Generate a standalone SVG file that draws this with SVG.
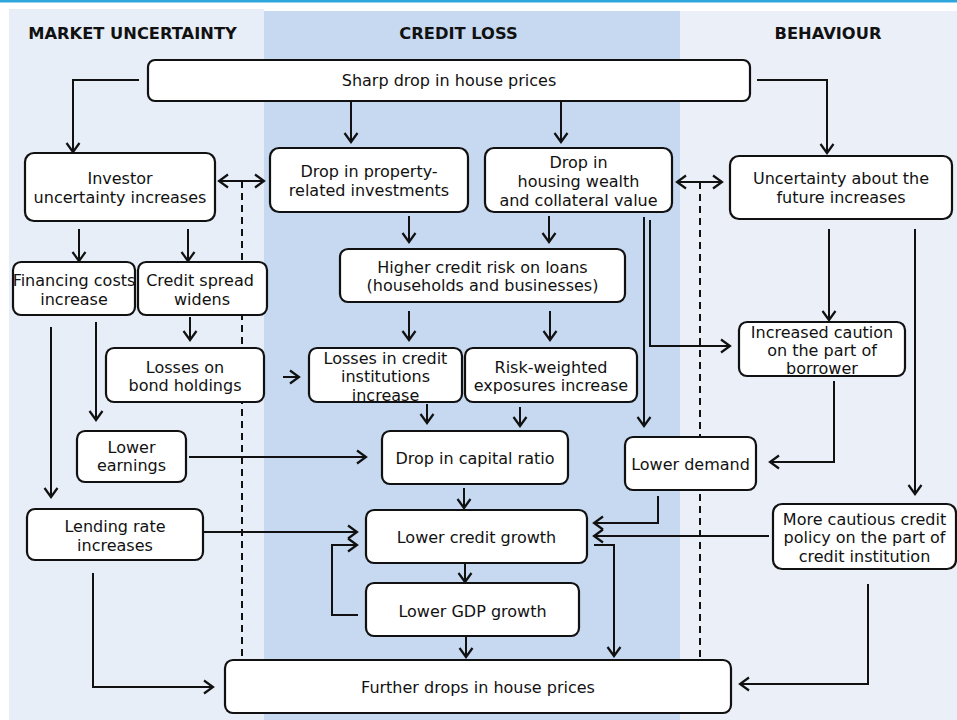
<svg xmlns="http://www.w3.org/2000/svg" width="957" height="720" viewBox="0 0 957 720">
<style>
.box{fill:#fff;stroke:#111;stroke-width:2.2}
.t{font-family:"DejaVu Sans","Verdana",sans-serif;font-size:16px;fill:#111;text-anchor:middle}
.h{font-family:"DejaVu Sans","Verdana",sans-serif;font-size:16.3px;font-weight:bold;fill:#111;text-anchor:middle}
.c{fill:none;stroke:#111;stroke-width:2}
.a{marker-end:url(#ah)}
.d{stroke-dasharray:7,5}
</style>
<defs>
<marker id="ah" markerUnits="userSpaceOnUse" viewBox="0 0 14 16" markerWidth="14" markerHeight="16" refX="12" refY="8" orient="auto-start-reverse">
<path d="M3,1.5 L12,8 L3,14.5" fill="none" stroke="#111" stroke-width="2.2"/>
</marker>
</defs>
<rect x="0" y="0" width="957" height="720" fill="#fff"/>
<rect x="0" y="0" width="957" height="2.5" fill="#2ea6dc"/>
<rect x="9" y="9" width="255" height="711" fill="#e7eef8"/>
<rect x="264" y="11" width="416" height="709" fill="#c6d9f0"/>
<rect x="680" y="11" width="277" height="709" fill="#eaeff8"/>
<text class="h" x="132.5" y="39">MARKET UNCERTAINTY</text>
<text class="h" x="458.5" y="39">CREDIT LOSS</text>
<text class="h" x="828" y="39">BEHAVIOUR</text>

<g id="connectors">
<path class="c a" d="M139,80 H73 V152"/>
<path class="c a" d="M351,101 V142"/>
<path class="c a" d="M561,101 V142"/>
<path class="c a" d="M757,80 H827 V153"/>
<path class="c a" d="M79,229 V261"/>
<path class="c a" d="M188,229 V261"/>
<path class="c a" d="M219,181 H264" marker-start="url(#ah)"/>
<path class="c d" d="M242,181 V657"/>
<path class="c a" d="M677,182 H722" marker-start="url(#ah)"/>
<path class="c d" d="M700,182 V657"/>
<path class="c a" d="M409,216 V242"/>
<path class="c a" d="M549,216 V242"/>
<path class="c a" d="M409,311 V340"/>
<path class="c a" d="M550,311 V340"/>
<path class="c a" d="M650,220 V346 H730"/>
<path class="c a" d="M644,217 V426"/>
<path class="c a" d="M829,229 V320"/>
<path class="c a" d="M915,229 V494"/>
<path class="c a" d="M51,327 V497"/>
<path class="c a" d="M96,322 V420"/>
<path class="c a" d="M190,317 V340"/>
<path class="c a" d="M283,377 H299"/>
<path class="c a" d="M427,404 V423"/>
<path class="c a" d="M520,407 V426"/>
<path class="c a" d="M189,457 H366"/>
<path class="c a" d="M834,381 V462 H770"/>
<path class="c a" d="M464,488 V508"/>
<path class="c a" d="M658,496 V523 H594"/>
<path class="c a" d="M769,536 H594"/>
<path class="c a" d="M203,532 H357"/>
<path class="c a" d="M465,563 V582"/>
<path class="c a" d="M466,637 V657"/>
<path class="c a" d="M358,615 H332 V545 H357"/>
<path class="c a" d="M594,545 H614 V656"/>
<path class="c a" d="M868,584 V684 H740"/>
<path class="c a" d="M93,573 V687 H213"/>
</g>

<g id="sharp"><rect class="box" x="148" y="60" width="602" height="41" rx="7"/><text class="t" x="449" y="85.5">Sharp drop in house prices</text></g>
<g id="investor"><rect class="box" x="25" y="153" width="190" height="68" rx="9"/><text class="t" x="120" y="184">Investor</text><text class="t" x="120" y="203">uncertainty increases</text></g>
<g id="property"><rect class="box" x="270" y="148" width="198" height="64" rx="9"/><text class="t" x="369" y="177">Drop in property-</text><text class="t" x="369" y="196">related investments</text></g>
<g id="housing"><rect class="box" x="485" y="148" width="187" height="64" rx="9"/><text class="t" x="578.5" y="167.5">Drop in</text><text class="t" x="578.5" y="186.5">housing wealth</text><text class="t" x="578.5" y="205.5">and collateral value</text></g>
<g id="future"><rect class="box" x="730" y="156" width="222" height="63" rx="9"/><text class="t" x="841" y="184">Uncertainty about the</text><text class="t" x="841" y="202.5">future increases</text></g>
<g id="financing"><rect class="box" x="13" y="262" width="122" height="53" rx="8"/><text class="t" x="74" y="286">Financing costs</text><text class="t" x="74" y="304.5">increase</text></g>
<g id="spread"><rect class="box" x="138" y="262" width="129" height="53" rx="8"/><text class="t" x="200" y="286">Credit spread</text><text class="t" x="202" y="304.5">widens</text></g>
<g id="risk"><rect class="box" x="340" y="249" width="285" height="53" rx="8"/><text class="t" x="482.5" y="272.5">Higher credit risk on loans</text><text class="t" x="482.5" y="291">(households and businesses)</text></g>
<g id="bond"><rect class="box" x="106" y="348" width="158" height="54" rx="8"/><text class="t" x="185" y="372.5">Losses on</text><text class="t" x="185" y="390.5">bond holdings</text></g>
<g id="losses"><rect class="box" x="309" y="348" width="153" height="54" rx="8"/><text class="t" x="385.5" y="363.5">Losses in credit</text><text class="t" x="385.5" y="382">institutions</text><text class="t" x="385.5" y="400.5">increase</text></g>
<g id="rwe"><rect class="box" x="465" y="348" width="172" height="54" rx="8"/><text class="t" x="551" y="372.5">Risk-weighted</text><text class="t" x="551" y="390.5">exposures increase</text></g>
<g id="caution"><rect class="box" x="739" y="322" width="166" height="54" rx="8"/><text class="t" x="822" y="337.5">Increased caution</text><text class="t" x="822" y="355.5">on the part of</text><text class="t" x="822" y="374">borrower</text></g>
<g id="earnings"><rect class="box" x="77" y="431" width="109" height="51" rx="8"/><text class="t" x="131.5" y="452.5">Lower</text><text class="t" x="131.5" y="471">earnings</text></g>
<g id="capital"><rect class="box" x="382" y="431" width="186" height="53" rx="8"/><text class="t" x="475" y="463.5">Drop in capital ratio</text></g>
<g id="demand"><rect class="box" x="625" y="437" width="131" height="53" rx="8"/><text class="t" x="690.5" y="469.5">Lower demand</text></g>
<g id="lending"><rect class="box" x="27" y="509" width="176" height="51" rx="8"/><text class="t" x="115" y="531.5">Lending rate</text><text class="t" x="115" y="550.5">increases</text></g>
<g id="creditgrowth"><rect class="box" x="366" y="510" width="221" height="53" rx="8"/><text class="t" x="476.5" y="542.5">Lower credit growth</text></g>
<g id="cautious"><rect class="box" x="773" y="504" width="183" height="65" rx="9"/><text class="t" x="864.5" y="524.5">More cautious credit</text><text class="t" x="864.5" y="542.5">policy on the part of</text><text class="t" x="864.5" y="561.5">credit institution</text></g>
<g id="gdp"><rect class="box" x="366" y="583" width="213" height="53" rx="8"/><text class="t" x="472.5" y="616.5">Lower GDP growth</text></g>
<g id="further"><rect class="box" x="225" y="660" width="506" height="53" rx="8"/><text class="t" x="478" y="692.5">Further drops in house prices</text></g>
</svg>
